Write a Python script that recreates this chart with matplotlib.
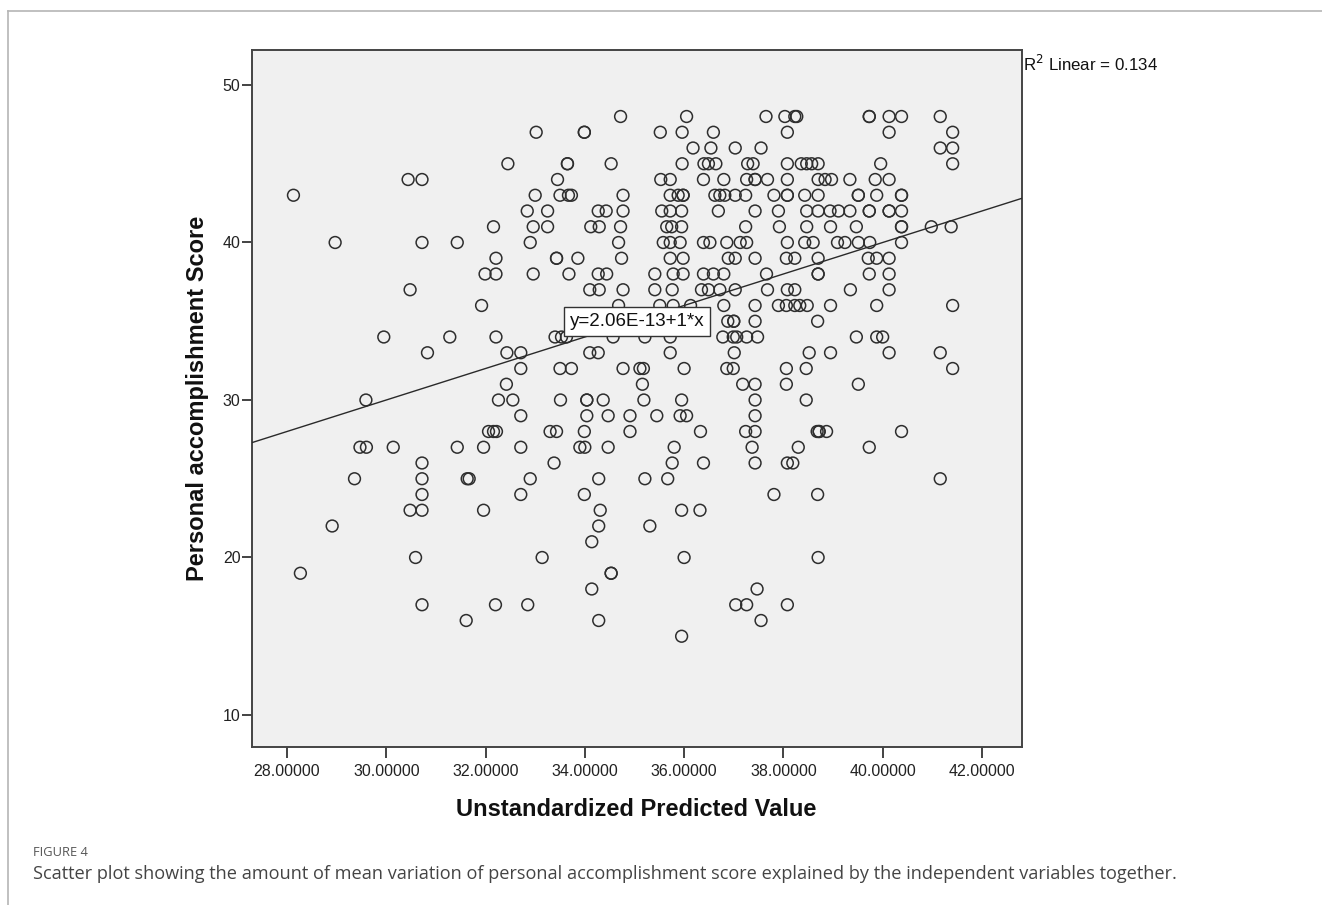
import matplotlib
matplotlib.use("Agg")
import matplotlib.pyplot as plt
from matplotlib.lines import Line2D
import numpy as np

# ---- data: predicted values (x) grouped by personal accomplishment score (y) ----
x_48 = [34.72, 36.05, 37.65, 38.03, 38.23, 38.27, 39.73, 39.73, 40.13, 40.38, 41.16]
x_47 = [33.02, 33.99, 33.99, 35.52, 35.96, 36.59, 38.08, 40.13, 41.41]
x_46 = [36.18, 36.54, 37.03, 37.55, 41.16, 41.41]
x_45 = [32.45, 33.65, 33.65, 34.53, 35.96, 36.40, 36.49, 36.64, 37.28, 37.39, 38.08,
        38.36, 38.47, 38.57, 38.70, 39.96, 41.41]
x_44 = [30.44, 30.72, 33.45, 35.53, 35.72, 36.39, 36.80, 37.26, 37.43, 37.43, 37.68,
        38.08, 38.70, 38.84, 38.97, 39.34, 39.85, 40.13]
x_43 = [28.13, 33.0, 33.5, 33.67, 33.73, 34.77, 35.72, 35.88, 35.98, 35.98, 36.62, 36.72,
        36.82, 37.03, 37.24, 37.81, 38.08, 38.08, 38.43, 38.70, 39.51, 39.51, 39.88, 40.38, 40.38]
x_42 = [32.84, 33.25, 34.27, 34.43, 34.77, 35.55, 35.72, 35.95, 36.69, 37.43, 37.90, 38.47,
        38.70, 38.94, 39.11, 39.34, 39.73, 39.73, 40.13, 40.13, 40.38]
x_41 = [32.16, 32.96, 33.25, 34.12, 34.29, 34.72, 35.65, 35.75, 35.95, 37.24, 37.92, 38.47,
        38.95, 39.47, 40.38, 40.38, 40.98, 41.38]
x_40 = [28.97, 30.72, 31.43, 32.9, 34.68, 35.58, 35.72, 35.92, 36.39, 36.52, 36.86, 37.13,
        37.26, 38.08, 38.43, 38.60, 39.09, 39.24, 39.51, 39.74, 40.38]
x_39 = [32.21, 33.43, 33.43, 33.86, 34.74, 35.72, 35.98, 36.89, 37.03, 37.43, 38.06, 38.23,
        38.70, 39.71, 39.88, 40.13]
x_38 = [31.99, 32.21, 32.96, 33.68, 34.27, 34.44, 35.41, 35.78, 35.98, 36.39, 36.59, 36.80,
        37.66, 38.70, 38.70, 39.73, 40.13]
x_37 = [30.48, 34.10, 34.29, 34.77, 35.41, 35.76, 36.35, 36.49, 36.72, 37.03, 37.68, 38.08,
        38.23, 39.35, 40.13]
x_36 = [31.92, 34.68, 35.51, 35.78, 36.13, 36.80, 37.43, 37.90, 38.06, 38.23, 38.33, 38.48,
        38.95, 39.88, 41.41]
x_35 = [36.88, 37.0, 37.0, 37.43, 38.69]
x_34 = [29.95, 31.28, 32.21, 33.40, 33.53, 33.63, 34.57, 35.21, 35.72, 36.78, 36.99, 37.06,
        37.26, 37.48, 39.47, 39.88, 40.0]
x_33 = [30.83, 32.43, 32.71, 34.10, 34.27, 35.72, 37.01, 38.52, 38.95, 40.13, 41.16]
x_32 = [32.71, 33.50, 33.73, 34.77, 35.11, 35.18, 36.0, 36.86, 36.99, 38.06, 38.46, 41.41]
x_31 = [32.42, 35.16, 37.18, 37.43, 38.06, 39.51]
x_30 = [29.59, 32.26, 32.55, 33.51, 34.04, 34.04, 34.37, 35.19, 35.95, 37.43, 38.46]
x_29 = [32.71, 34.04, 34.47, 34.91, 35.45, 35.92, 36.05, 37.43]
x_28 = [32.06, 32.16, 32.22, 33.30, 33.43, 33.99, 34.91, 36.33, 37.24, 37.43, 38.68, 38.72,
        38.72, 38.87, 40.38]
x_27 = [29.47, 29.6, 30.14, 31.43, 31.96, 32.71, 33.90, 34.0, 34.47, 35.8, 37.37, 38.30, 39.73]
x_26 = [30.72, 33.38, 35.76, 36.39, 37.43, 38.08, 38.19]
x_25 = [29.36, 30.72, 31.63, 31.67, 32.9, 34.28, 35.21, 35.67, 41.16]
x_24 = [30.72, 32.71, 33.99, 37.81, 38.69]
x_23 = [30.48, 30.72, 31.96, 34.31, 35.95, 36.32]
x_22 = [28.91, 34.28, 35.31]
x_21 = [34.14]
x_20 = [30.59, 33.14, 36.0, 38.70]
x_19 = [28.27, 34.53, 34.53]
x_18 = [34.14, 37.47]
x_17 = [30.72, 32.20, 32.85, 37.04, 37.26, 38.08]
x_16 = [31.61, 34.28, 37.55]
x_15 = [35.95]

score_levels = [48, 47, 46, 45, 44, 43, 42, 41, 40, 39, 38, 37, 36, 35, 34, 33, 32,
                31, 30, 29, 28, 27, 26, 25, 24, 23, 22, 21, 20, 19, 18, 17, 16, 15]
x_by_score = [x_48, x_47, x_46, x_45, x_44, x_43, x_42, x_41, x_40, x_39, x_38, x_37,
              x_36, x_35, x_34, x_33, x_32, x_31, x_30, x_29, x_28, x_27, x_26, x_25,
              x_24, x_23, x_22, x_21, x_20, x_19, x_18, x_17, x_16, x_15]

fit_intercept = 2.06e-13
fit_slope = 1.0
r2_value = 0.134

x_ticks = [28, 30, 32, 34, 36, 38, 40, 42]
y_ticks = [10, 20, 30, 40, 50]

pred = []
score = []
for s, xs in zip(score_levels, x_by_score):
    pred.extend(xs)
    score.extend([s] * len(xs))
pred = np.array(pred)
score = np.array(score)

# ---- figure ----
W, H = 1322, 905
fig = plt.figure(figsize=(W / 100, H / 100), dpi=100)
fig.patch.set_facecolor("white")
plt.rcParams["font.family"] = ["Liberation Sans", "DejaVu Sans"]

# page frame lines (top and left)
fig.add_artist(Line2D([8 / W, 1.0], [1 - 11 / H, 1 - 11 / H], transform=fig.transFigure,
                      color="#b5b5b5", lw=1.2))
fig.add_artist(Line2D([7.5 / W, 7.5 / W], [0.0, 1 - 11 / H], transform=fig.transFigure,
                      color="#b5b5b5", lw=1.2))

ax_l, ax_r, ax_t, ax_b = 251.5, 1021.5, 49.5, 747
ax = fig.add_axes([ax_l / W, 1 - ax_b / H, (ax_r - ax_l) / W, (ax_b - ax_t) / H])
ax.set_facecolor("#f0f0f0")
ax.set_xlim(27.285, 42.797)
ax.set_ylim(7.968, 52.254)

ax.scatter(pred, score, s=72, facecolors="none", edgecolors="#2e2e2e", linewidths=1.1,
           zorder=3)

xl = np.array(ax.get_xlim())
ax.plot(xl, fit_intercept + fit_slope * xl, color="#2a2a2a", lw=1.0, zorder=4)

ax.text(35.05, 34.98, "y=2.06E-13+1*x", fontsize=13.5, color="#111111",
        ha="center", va="center", zorder=6,
        bbox=dict(boxstyle="square,pad=0.3", facecolor="white", edgecolor="#333333",
                  linewidth=1.0))

ax.set_xticks(x_ticks)
ax.set_xticklabels([f"{v:.5f}" for v in x_ticks])
ax.set_yticks(y_ticks)
ax.tick_params(axis="both", labelsize=11.5, colors="#222222", width=1.2, direction="out")
ax.tick_params(axis="x", length=8, pad=4)
ax.tick_params(axis="y", length=7, pad=1)
for sp in ax.spines.values():
    sp.set_color("#444444")
    sp.set_linewidth(1.4)

ax.set_xlabel("Unstandardized Predicted Value", fontsize=17, fontweight="bold",
              color="#111111", labelpad=14)
ax.set_ylabel("Personal accomplishment Score", fontsize=17, fontweight="bold",
              color="#111111", labelpad=10)

fig.text(1023 / W, 1 - 64 / H, r"R$^2$ Linear = " + f"{r2_value:.3f}",
         fontsize=12.2, color="#111111", ha="left", va="center")

fig.text(33 / W, 1 - 852 / H, "FIGURE 4", fontsize=9.3, color="#555555",
         family=["Open Sans", "DejaVu Sans"], ha="left", va="center")
fig.text(33 / W, 1 - 874 / H,
         "Scatter plot showing the amount of mean variation of personal accomplishment score "
         "explained by the independent variables together.",
         fontsize=13.1, color="#444444", family=["Open Sans", "DejaVu Sans"],
         ha="left", va="center")

fig.savefig("out.png", dpi=100, facecolor="white")
